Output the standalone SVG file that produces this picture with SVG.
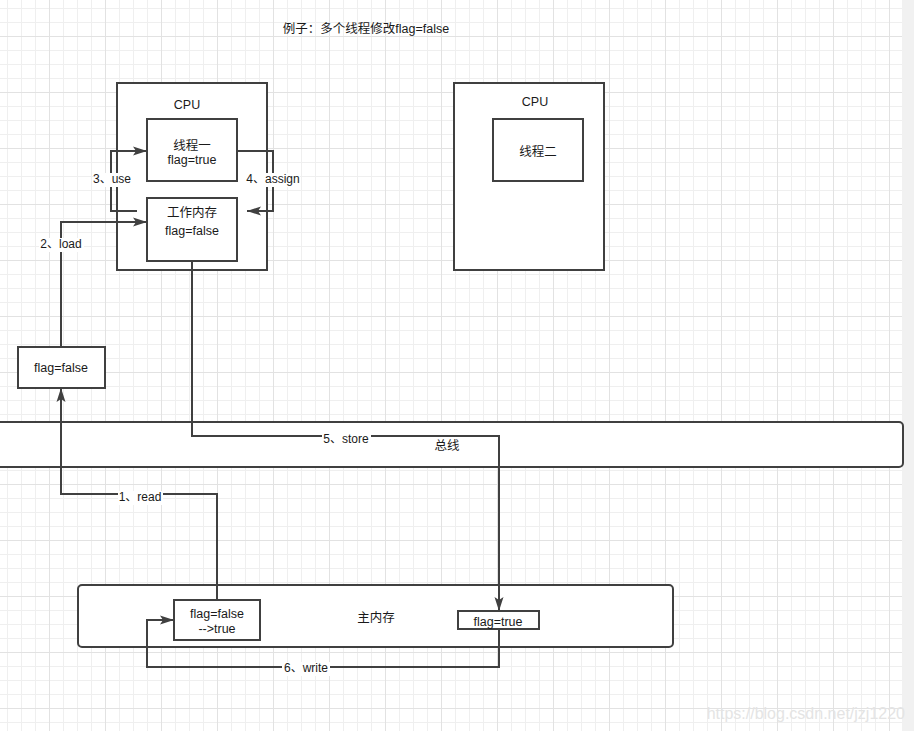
<svg xmlns="http://www.w3.org/2000/svg" width="914" height="731" viewBox="0 0 914 731">
<style>
.box{fill:#fff;stroke:#404040;stroke-width:2}
.t{font-family:"Liberation Sans","Noto Sans CJK SC",sans-serif;font-size:12px;fill:#1a1a1a;text-anchor:middle}
.n{font-size:12.5px}
.edge{fill:none;stroke:#404040;stroke-width:2}
.lbg{fill:#fff}
</style>
<defs>
<pattern id="grid" x="-7" y="-20" width="56" height="56" patternUnits="userSpaceOnUse">
<rect x="0" y="0" width="56" height="56" fill="#fff"/>
<rect x="14" y="0" width="1" height="56" fill="#efefef"/>
<rect x="28" y="0" width="1" height="56" fill="#efefef"/>
<rect x="42" y="0" width="1" height="56" fill="#efefef"/>
<rect x="0" y="14" width="56" height="1" fill="#efefef"/>
<rect x="0" y="28" width="56" height="1" fill="#efefef"/>
<rect x="0" y="42" width="56" height="1" fill="#efefef"/>
<rect x="0" y="0" width="1" height="56" fill="#e2e2e2"/>
<rect x="0" y="0" width="56" height="1" fill="#e2e2e2"/>
</pattern>
<marker id="arr" markerUnits="userSpaceOnUse" markerWidth="15" markerHeight="12" refX="14" refY="6" orient="auto">
<path d="M0,1.5 L14,6 L0,10.5 L3,6 Z" fill="#404040"/>
</marker>
</defs>
<rect x="0" y="0" width="914" height="731" fill="#f1f1f1"/>
<rect x="0" y="0" width="902" height="731" fill="url(#grid)"/>
<text class="t" x="366" y="33" style="font-size:12.5px">例子：多个线程修改flag=false</text>

<g id="cpu1"><rect class="box" x="117" y="83" width="150" height="187"/><text class="t n" x="187" y="109">CPU</text></g>
<g id="cpu2"><rect class="box" x="454" y="83" width="150" height="187"/><text class="t n" x="535" y="106">CPU</text></g>
<g id="thread2"><rect class="box" x="493" y="119" width="90" height="62"/><text class="t n" x="538" y="156">线程二</text></g>
<g id="bus"><rect class="box" x="-5" y="422" width="908" height="45" rx="4"/><text class="t n" x="447" y="450">总线</text></g>
<g id="mainmem"><rect class="box" x="78" y="585" width="595" height="62" rx="4"/><text class="t n" x="376" y="622">主内存</text></g>

<g id="connectors">
<path class="edge" d="M217,600 V494 H61 V388" marker-end="url(#arr)"/>
<path class="edge" d="M61,347 V222 H147" marker-end="url(#arr)"/>
<path class="edge" d="M137,211 H111 V151 H147" marker-end="url(#arr)"/>
<path class="edge" d="M237,151 H273 V211 H247" marker-end="url(#arr)"/>
<path class="edge" d="M192,261 V436 H499 V611" marker-end="url(#arr)"/>
<path class="edge" d="M499,629 V667 H147 V620 H174" marker-end="url(#arr)"/>
<rect class="lbg" x="118" y="491" width="45" height="14"/><text class="t" x="140" y="501">1、read</text>
<rect class="lbg" x="39" y="238" width="45" height="14"/><text class="t" x="61" y="248">2、load</text>
<rect class="lbg" x="93" y="173" width="38" height="14"/><text class="t" x="112" y="183">3、use</text>
<rect class="lbg" x="247" y="173" width="53" height="14"/><text class="t" x="273" y="183">4、assign</text>
<rect class="lbg" x="322" y="433" width="49" height="13"/><text class="t" x="346" y="443">5、store</text>
<rect class="lbg" x="282" y="662" width="48" height="14"/><text class="t" x="306" y="672">6、write</text>
</g>

<g id="thread1"><rect class="box" x="147" y="119" width="90" height="62"/><text class="t n" x="192" y="150">线程一</text><text class="t n" x="192" y="164">flag=true</text></g>
<g id="workmem"><rect class="box" x="147" y="198" width="90" height="63"/><text class="t n" x="192" y="217">工作内存</text><text class="t n" x="192" y="235">flag=false</text></g>
<g id="flagbox"><rect class="box" x="18" y="347" width="87" height="41"/><text class="t n" x="61" y="372">flag=false</text></g>
<g id="mainflag"><rect class="box" x="174" y="600" width="86" height="40"/><text class="t n" x="217" y="618">flag=false</text><text class="t n" x="217" y="633">--&gt;true</text></g>
<g id="mainflag2"><rect class="box" x="458" y="611" width="81" height="18"/><text class="t n" x="498" y="626">flag=true</text></g>

<text x="905" y="719" style="font-family:'Liberation Sans',sans-serif;font-size:16px;fill:#e4e4e4;text-anchor:end">https://blog.csdn.net/jzj1220</text>
</svg>
